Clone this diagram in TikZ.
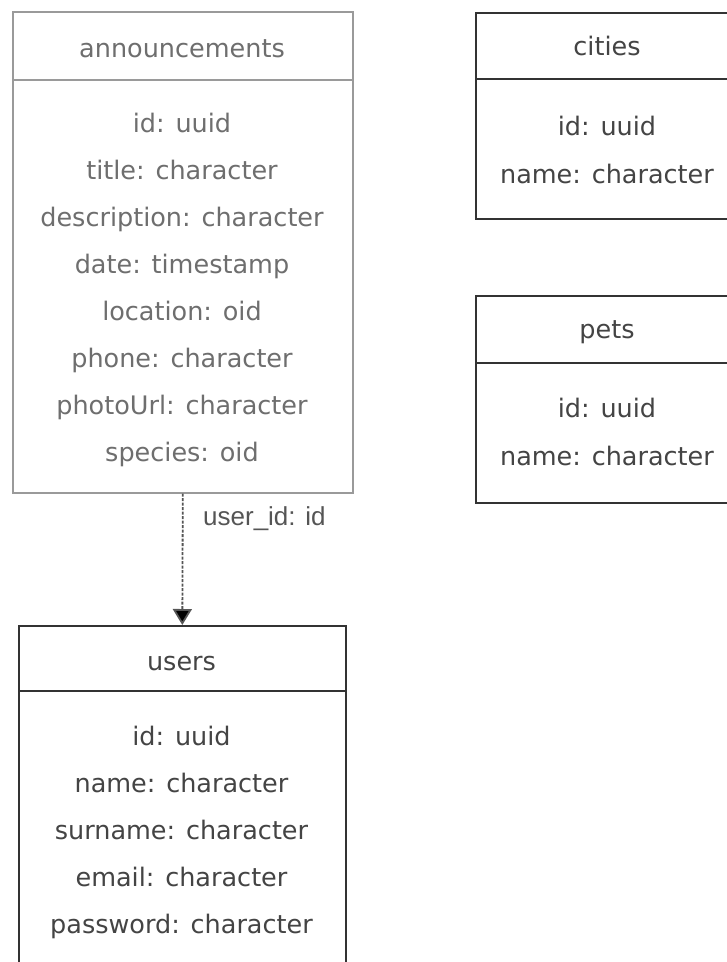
\documentclass[tikz,border=0pt]{standalone}
\usepackage{fontspec}
\setmainfont{DejaVu Sans}
\newfontfamily\edgefont{Liberation Sans}
\usetikzlibrary{arrows.meta,shadows}

\definecolor{frameGray}{HTML}{9A9A9A}
\definecolor{frameDark}{HTML}{333333}
\definecolor{textGray}{HTML}{6E6E6E}
\definecolor{textDark}{HTML}{444444}
\definecolor{linkGray}{HTML}{555555}

\tikzset{
  tablebox/.style={draw=#1, fill=white, line width=1.6pt, inner sep=0pt,
    anchor=north west, rectangle,
    drop shadow={shadow xshift=1.5pt, shadow yshift=-1.5pt, fill=black, opacity=0.15}},
  divider/.style={draw=#1, line width=1.6pt},
  fieldtxt/.style={anchor=base, inner sep=0pt, text=#1,
    font=\fontsize{25.5}{25.5}\selectfont},
  linklabel/.style={anchor=base west, inner sep=0pt, text=linkGray,
    font=\edgefont\fontsize{26}{26}\selectfont},
  fklink/.style={draw=linkGray, line width=1.8pt, dash pattern=on 3pt off 1.5pt,
    -{Triangle[length=16pt, width=19pt, fill=black]}}
}

\begin{document}
\begin{tikzpicture}[x=1pt, y=-1pt]
\useasboundingbox (0,0) rectangle (727,962);
\clip (0,0) rectangle (727,962);

% announcements table
\node[tablebox=frameGray, minimum width=340pt, minimum height=481pt] (ann) at (12,11) {};
\draw[divider=frameGray] (ann.west |- 0,80) -- (ann.east |- 0,80);
\node[fieldtxt=textGray] (annhead) at (182,57) {announcements};
\node[fieldtxt=textGray] (ann1) at (182,132) {id: uuid};
\node[fieldtxt=textGray] (ann2) at (182,179) {title: character};
\node[fieldtxt=textGray] (ann3) at (182,226) {description: character};
\node[fieldtxt=textGray] (ann4) at (182,273) {date: timestamp};
\node[fieldtxt=textGray] (ann5) at (182,320) {location: oid};
\node[fieldtxt=textGray] (ann6) at (182,367) {phone: character};
\node[fieldtxt=textGray] (ann7) at (182,414) {photoUrl: character};
\node[fieldtxt=textGray] (ann8) at (182,461) {species: oid};

% cities table
\node[tablebox=frameDark, minimum width=264pt, minimum height=206pt] (cities) at (475,12) {};
\draw[divider=frameDark] (cities.west |- 0,79) -- (cities.east |- 0,79);
\node[fieldtxt=textDark] (cityhead) at (607,55) {cities};
\node[fieldtxt=textDark] (city1) at (607,135) {id: uuid};
\node[fieldtxt=textDark] (city2) at (607,183) {name: character};

% pets table
\node[tablebox=frameDark, minimum width=264pt, minimum height=207pt] (pets) at (475,295) {};
\draw[divider=frameDark] (pets.west |- 0,363) -- (pets.east |- 0,363);
\node[fieldtxt=textDark] (pethead) at (607,338) {pets};
\node[fieldtxt=textDark] (pet1) at (607,417) {id: uuid};
\node[fieldtxt=textDark] (pet2) at (607,465) {name: character};

% users table
\node[tablebox=frameDark, minimum width=327pt, minimum height=380pt] (users) at (18,625) {};
\draw[divider=frameDark] (users.west |- 0,691) -- (users.east |- 0,691);
\node[fieldtxt=textDark] (userhead) at (181.5,670) {users};
\node[fieldtxt=textDark] (user1) at (181.5,745) {id: uuid};
\node[fieldtxt=textDark] (user2) at (181.5,792) {name: character};
\node[fieldtxt=textDark] (user3) at (181.5,839) {surname: character};
\node[fieldtxt=textDark] (user4) at (181.5,886) {email: character};
\node[fieldtxt=textDark] (user5) at (181.5,933) {password: character};

% foreign key: announcements -> users
\draw[fklink] (ann.south) -- (users.north);
\node[linklabel] (fklabel) at (203,525) {user\_id: id};
\end{tikzpicture}
\end{document}
